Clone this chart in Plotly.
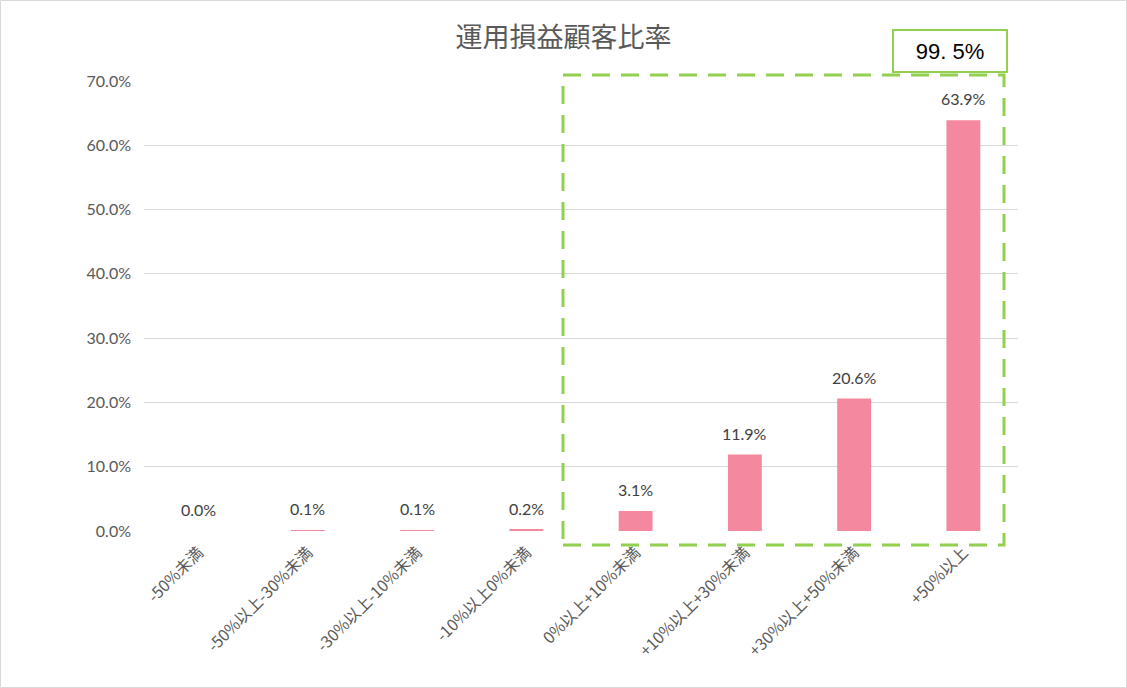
import plotly.graph_objects as go

categories = ["-50%未満", "-50%以上-30%未満", "-30%以上-10%未満", "-10%以上0%未満",
              "0%以上+10%未満", "+10%以上+30%未満", "+30%以上+50%未満", "+50%以上"]
values = [0.0, 0.1, 0.1, 0.2, 3.1, 11.9, 20.6, 63.9]
y_ticks = [0, 10, 20, 30, 40, 50, 60, 70]
total_label = "99. 5%"

num_font = "Lato, 'Noto Sans CJK JP', sans-serif"
jp_font = "'Noto Sans CJK JP', sans-serif"

fig = go.Figure()
fig.add_trace(go.Bar(
    x=list(range(len(categories))), y=values,
    marker=dict(color="#F4889E", line=dict(width=0)),
    hoverinfo="x+y",
))

for i, v in enumerate(values):
    fig.add_annotation(x=i, y=v, xref="x", yref="y", text=f"{v:.1f}%", showarrow=False,
                       yanchor="bottom", yshift=10,
                       font=dict(family=num_font, size=16, color="#404040"))

fig.update_layout(
    width=1127, height=688,
    margin=dict(l=144, r=109, t=81, b=157),
    paper_bgcolor="white", plot_bgcolor="white",
    showlegend=False,
    bargap=0.69,
    title=dict(text="運用損益顧客比率", x=0.5, xanchor="center", y=1 - 38 / 688, yanchor="middle",
               font=dict(family=jp_font, size=27, color="#595959")),
    xaxis=dict(tickmode="array", tickvals=list(range(len(categories))), ticktext=categories,
               tickangle=-45, range=[-0.5, 7.5], showgrid=False, zeroline=False,
               showline=False, ticks="", ticklabelstandoff=8,
               tickfont=dict(family=jp_font, size=16, color="#595959")),
    yaxis=dict(range=[0, 70], tickvals=y_ticks, ticktext=[f"{t:.1f}%" for t in y_ticks],
               showgrid=True, gridcolor="#D9D9D9", gridwidth=1, zeroline=False,
               showline=False, ticks="", ticklen=0, ticklabelstandoff=12,
               tickfont=dict(family=num_font, size=16, color="#595959")),
)

# outer chart border
fig.add_shape(type="rect", xref="paper", yref="paper", x0=-143.5 / 874, x1=1 + 108.5 / 874,
              y0=-156.5 / 450, y1=1 + 80.5 / 450, line=dict(color="#D9D9D9", width=1))
# highlight box (dashed green)
fig.add_shape(type="rect", xref="paper", yref="paper",
              x0=(563 - 144) / 874, x1=(1004 - 144) / 874,
              y0=(531 - 545) / 450, y1=(531 - 75) / 450,
              line=dict(color="#92D050", width=3, dash="18px,11px"), layer="above")
fig.add_annotation(xref="paper", yref="paper", x=(950 - 144) / 874, y=(531 - 51) / 450,
                   text=total_label, showarrow=False,
                   font=dict(family="'Liberation Sans', Arial, sans-serif", size=22, color="#000000"),
                   bordercolor="#92D050", borderwidth=2, bgcolor="white",
                   width=110, height=38, xanchor="center", yanchor="middle")

fig.write_html("out.html")
